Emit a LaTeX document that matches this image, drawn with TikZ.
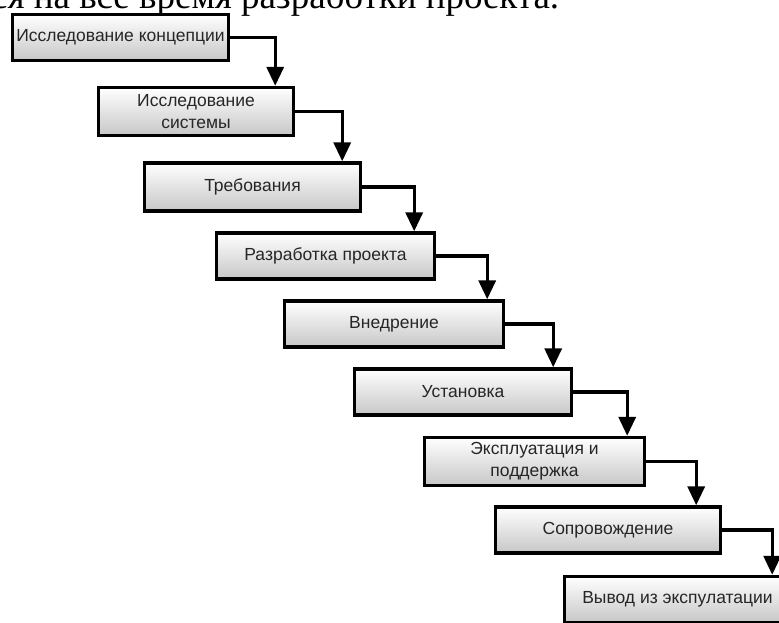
\documentclass[tikz,border=0pt]{standalone}
\usepackage{fontspec}
\setmainfont{Liberation Serif}
\newfontfamily\boxfont{Liberation Sans}
\usetikzlibrary{arrows.meta}

\tikzset{
  stagebox/.style={
    draw=black, line width=3.4pt,
    top color=white, bottom color=black!22,
    minimum height=46pt, inner sep=2pt,
    font=\boxfont\fontsize{17.5}{22}\selectfont,
    text=black!85, align=center},
  flow/.style={
    draw=black, line width=3.4pt,
    -{Triangle[width=17pt,length=19pt]}},
  headline/.style={font=\fontsize{37}{40}\selectfont, inner sep=0pt, anchor=base west}
}

\begin{document}
\begin{tikzpicture}[x=1pt, y=-1pt]
  \useasboundingbox (0,0) rectangle (779,623);
  \begin{scope}
    \clip (0,0) rectangle (779,623);

    % last line of the paragraph above the chart
    \node[headline] (head) at (-9,9) {ся на все время разработки проекта.};

    % life-cycle stages
    \node[stagebox, minimum width=216pt] (b1) at (120.5,37.5) {Исследование концепции};
    \node[stagebox, minimum width=195pt, minimum height=48pt] (b2) at (196,111.5) {Исследование\\системы};
    \node[stagebox, minimum width=216pt, minimum height=48pt] (b3) at (252.5,187) {Требования};
    \node[stagebox, minimum width=218pt] (b4) at (325.5,256) {Разработка проекта};
    \node[stagebox, minimum width=219pt] (b5) at (394,324) {Внедрение};
    \node[stagebox, minimum width=217pt] (b6) at (463,392) {Установка};
    \node[stagebox, minimum width=220pt, minimum height=48pt] (b7) at (534.5,461.5) {Эксплуатация и\\поддержка};
    \node[stagebox, minimum width=225pt] (b8) at (608,530) {Сопровождение};
    \node[stagebox, minimum width=226pt] (b9) at (677.5,599.5) {Вывод из экспулатации};

    % cascading connectors
    \draw[flow] (b1.east) -| ([xshift=-20pt]b2.north east);
    \draw[flow] (b2.east) -| ([xshift=-20pt]b3.north east);
    \draw[flow] (b3.east) -| ([xshift=-22pt]b4.north east);
    \draw[flow] (b4.east) -| ([xshift=-18pt]b5.north east);
    \draw[flow] (b5.east) -| ([xshift=-20pt]b6.north east);
    \draw[flow] (b6.east) -| ([xshift=-19pt]b7.north east);
    \draw[flow] (b7.east) -| ([xshift=-26pt]b8.north east);
    \draw[flow] (b8.east) -| ([xshift=-20pt]b9.north east);
  \end{scope}
\end{tikzpicture}
\end{document}
